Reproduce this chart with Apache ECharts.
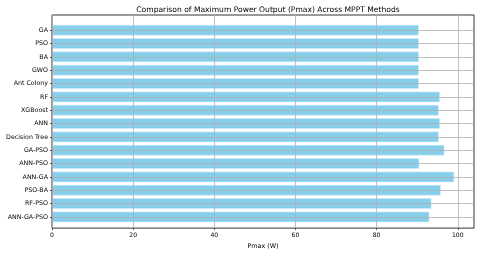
<!DOCTYPE html>
<html><head><meta charset="utf-8">
<script src="https://cdn.jsdelivr.net/npm/echarts@6/dist/echarts.min.js"></script>
<style>html,body{margin:0;padding:0;background:#fff}#c{width:480px;height:254px}</style>
</head><body><div id="c"></div>
<script>
const methods = ["GA","PSO","BA","GWO","Ant Colony","RF","XGBoost","ANN","Decision Tree","GA-PSO","ANN-PSO","ANN-GA","PSO-BA","RF-PSO","ANN-GA-PSO"];
const pmax = [90.4,90.4,90.4,90.4,90.4,95.6,95.3,95.6,95.3,96.7,90.5,99.1,95.8,93.5,93.0];
const xTicks = [0,20,40,60,80,100];
const titleText = "Comparison of Maximum Power Output (Pmax) Across MPPT Methods";
const xName = "Pmax (W)";

const chart = echarts.init(document.getElementById('c'), null, {renderer:'canvas'});
const font = 'DejaVu Sans';
const grid = '#b0b0b0';
chart.setOption({
  animation:false,
  title:{text:titleText,left:263,top:1,textAlign:'center',
    textStyle:{fontFamily:font,fontSize:7.6,fontWeight:'normal',color:'#000'}},
  grid:[
    {left:52,right:6,top:15,bottom:22,show:true,borderColor:'#000',borderWidth:0.8,backgroundColor:'transparent'},
    {left:52,right:6,top:30.2,bottom:37.1}
  ],
  xAxis:[
    {gridIndex:0,type:'value',min:0,max:104,
      name:xName,nameLocation:'middle',nameGap:12,
      nameTextStyle:{fontFamily:font,fontSize:6.4,color:'#000'},
      axisLine:{show:false},
      axisTick:{show:true,length:2,customValues:xTicks,lineStyle:{color:'#000',width:0.6}},
      axisLabel:{customValues:xTicks,fontFamily:font,fontSize:6.1,color:'#000',margin:4},
      splitLine:{show:true,lineStyle:{color:grid,width:0.8}}},
    {gridIndex:1,type:'value',min:0,max:104,show:false,splitLine:{show:false}}
  ],
  yAxis:[
    {gridIndex:0,type:'value',min:0,max:1,show:false,splitLine:{show:false}},
    {gridIndex:1,type:'category',data:methods,inverse:true,boundaryGap:false,
      axisLine:{show:false},
      axisTick:{show:true,length:2,lineStyle:{color:'#000',width:0.6}},
      axisLabel:{fontFamily:font,fontSize:6.3,color:'#000',margin:4,interval:0},
      splitLine:{show:true,interval:0,lineStyle:{color:grid,width:0.8}}}
  ],
  series:[{type:'bar',xAxisIndex:1,yAxisIndex:1,z:-1,barWidth:10.6,clip:false,
    data:pmax,
    itemStyle:{color:'#87CEEB',borderColor:'#cdeefb',borderWidth:0.6}}]
});
</script></body></html>
